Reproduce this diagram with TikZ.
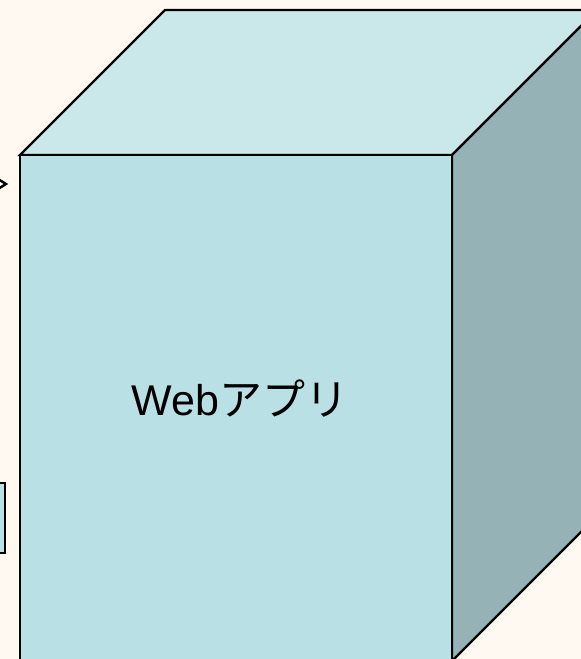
\documentclass[tikz,border=0pt]{standalone}
\usepackage{fontspec}
\setmainfont{Liberation Sans}
\newfontfamily\jpfont{Noto Sans CJK JP}
\definecolor{paper}{RGB}{255,249,242}
\definecolor{frontface}{RGB}{185,224,228}
\definecolor{topface}{RGB}{202,232,234}
\definecolor{sideface}{RGB}{149,179,182}
\begin{document}
\begin{tikzpicture}[x=1pt,y=-1pt,
  edge/.style={draw=black,line width=2.2pt,line join=miter}]
\useasboundingbox (0,0) rectangle (581,659);
\fill[paper] (0,0) rectangle (581,659);
\begin{scope}
\clip (0,0) rectangle (581,659);
% box at the left margin
\node[edge,fill=frontface,minimum width=40pt,minimum height=70pt,inner sep=0pt] (sidebox) at (-15,518) {};
% arrow tip entering from the left
\coordinate (tipA) at (-2,179);
\coordinate (tipB) at (6,184);
\coordinate (tipC) at (-2,189);
\draw[line width=2.4pt] (tipA) -- (tipB) -- (tipC);
% cube: top, side and front faces
\coordinate (fl) at (20,155);
\coordinate (fr) at (452,155);
\coordinate (bl) at (165,10);
\coordinate (br) at (597,10);
\coordinate (frb) at (452,661);
\coordinate (brb) at (597,516);
\coordinate (flb) at (20,661);
\filldraw[edge,fill=topface] (fl) -- (bl) -- (br) -- (fr) -- cycle;
\filldraw[edge,fill=sideface] (fr) -- (br) -- (brb) -- (frb) -- cycle;
\filldraw[edge,fill=frontface] (fl) -- (fr) -- (frb) -- (flb) -- cycle;
\node (app) at (240,399) {\fontsize{43}{46}\selectfont Web{\jpfont アプリ}};
\end{scope}
\end{tikzpicture}
\end{document}
